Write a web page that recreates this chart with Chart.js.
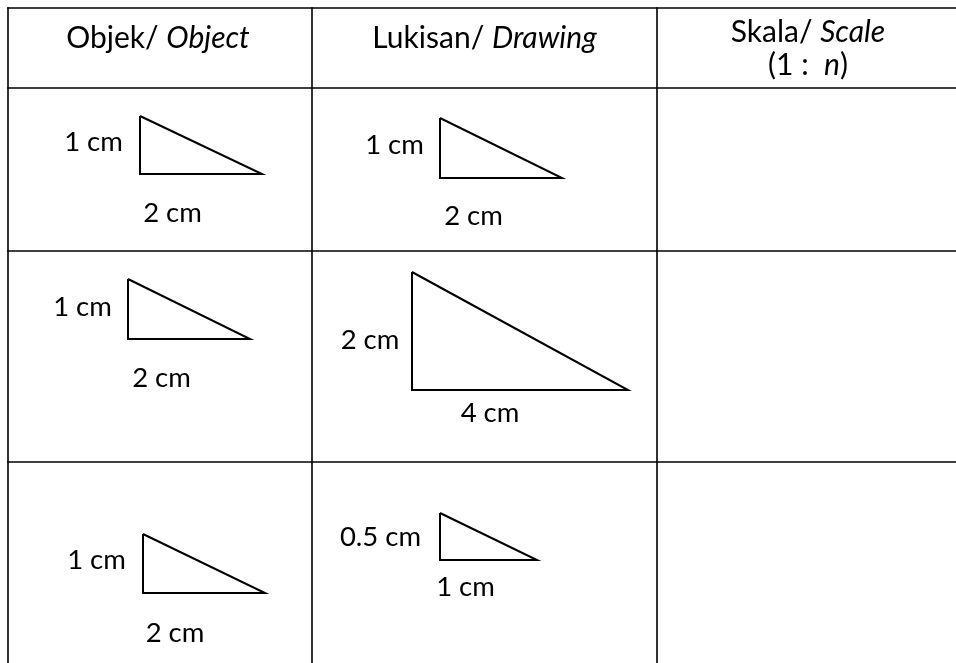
<!DOCTYPE html>
<html><head><meta charset="utf-8">
<script src="https://cdn.jsdelivr.net/npm/chart.js@4.4.1/dist/chart.umd.min.js"></script>
<style>html,body{margin:0;padding:0;background:#fff;overflow:hidden}#wrap{width:956px;height:663px}</style>
</head><body><div id="wrap"><canvas id="c" width="956" height="663"></canvas></div>
<script>
// ---- data ----
const headerMain = ["Objek/ ", "Lukisan/ ", "Skala/ "];
const headerItalic = ["Object", "Drawing", "Scale"];
const scaleNote = ["(1 :  ", "n", ")"];
const objectHeights = [1, 1, 1];
const objectBases = [2, 2, 2];
const drawingHeights = [1, 2, 0.5];
const drawingBases = [2, 4, 1];
const unit = "cm";

// ---- layout (pixel space of the page) ----
const W = 956, H = 663;
const colLines = [8, 312, 657];
const rowLines = [8, 88, 251, 462];
const headerCenters = [158, 484.5, 808];
const headerBaselines = [48, 48, 42];
const noteBaseline = 75;
const objectCells = [
  {cx:140, cy:174, sx:61, sy:58, hx:93.5, hy:151, bx:172.5, by:222},
  {cx:128, cy:339, sx:61, sy:60, hx:82.5, hy:316, bx:161.5, by:387},
  {cx:143, cy:593, sx:61, sy:59, hx:96.5, hy:569, bx:175, by:642}
];
const drawingCells = [
  {cx:440, cy:178, sx:61, sy:60, hx:394.5, hy:154, bx:473.5, by:225},
  {cx:412, cy:390, sx:54, sy:59, hx:370, hy:349, bx:490, by:422},
  {cx:440, cy:560, sx:97, sy:94, hx:380.5, hy:546, bx:465.5, by:596}
];
const FONT = "Lato";
const headerSize = 30, bodySize = 27.5;

// ---- datasets ----
const datasets = [];
function seg(a, b, w) {
  datasets.push({data:[a, b], showLine:true, borderColor:'#000', borderWidth:w,
    pointRadius:0, fill:false, tension:0, borderCapStyle:'square'});
}
colLines.forEach(x => seg({x:x, y:rowLines[0]}, {x:x, y:H}, 1.6));
rowLines.forEach(y => seg({x:colLines[0], y:y}, {x:W, y:y}, 1.6));

function tri(cell, h, b) {
  datasets.push({data:[
      {x:cell.cx, y:cell.cy - h*cell.sy},
      {x:cell.cx, y:cell.cy},
      {x:cell.cx + b*cell.sx, y:cell.cy},
      {x:cell.cx, y:cell.cy - h*cell.sy}
    ], showLine:true, borderColor:'#000', borderWidth:2, pointRadius:0,
    fill:false, tension:0, borderJoinStyle:'miter'});
}
objectCells.forEach((c, i) => tri(c, objectHeights[i], objectBases[i]));
drawingCells.forEach((c, i) => tri(c, drawingHeights[i], drawingBases[i]));

function fmt(v) { return v + " " + unit; }

const textPlugin = {
  id: 'tableText',
  afterDatasetsDraw(chart) {
    const ctx = chart.ctx, xs = chart.scales.x, ys = chart.scales.y;
    ctx.save();
    ctx.fillStyle = '#000';
    ctx.textBaseline = 'alphabetic';
    const nf = headerSize + "px " + FONT, itf = "italic " + headerSize + "px " + FONT;
    function mixed(parts, cx, by) {
      let total = 0;
      parts.forEach(p => { ctx.font = p[1] ? itf : nf; total += ctx.measureText(p[0]).width; });
      let x = xs.getPixelForValue(cx) - total / 2;
      ctx.textAlign = 'left';
      parts.forEach(p => { ctx.font = p[1] ? itf : nf; ctx.fillText(p[0], x, ys.getPixelForValue(by)); x += ctx.measureText(p[0]).width; });
    }
    headerMain.forEach((m, i) => mixed([[m, false], [headerItalic[i], true]], headerCenters[i], headerBaselines[i]));
    mixed([[scaleNote[0], false], [scaleNote[1], true], [scaleNote[2], false]], headerCenters[2], noteBaseline);

    ctx.font = bodySize + "px " + FONT;
    ctx.textAlign = 'center';
    function labels(cells, hs, bs) {
      cells.forEach((c, i) => {
        ctx.fillText(fmt(hs[i]), xs.getPixelForValue(c.hx), ys.getPixelForValue(c.hy));
        ctx.fillText(fmt(bs[i]), xs.getPixelForValue(c.bx), ys.getPixelForValue(c.by));
      });
    }
    labels(objectCells, objectHeights, objectBases);
    labels(drawingCells, drawingHeights, drawingBases);
    ctx.restore();
  }
};

new Chart(document.getElementById('c'), {
  type: 'scatter',
  data: {datasets: datasets},
  options: {
    responsive: false, animation: false,
    layout: {padding: 0},
    plugins: {legend: {display:false}, tooltip: {enabled:false}},
    scales: {
      x: {type:'linear', min:0, max:W, display:false},
      y: {type:'linear', min:0, max:H, reverse:true, display:false}
    }
  },
  plugins: [textPlugin]
});
</script>
</body></html>
